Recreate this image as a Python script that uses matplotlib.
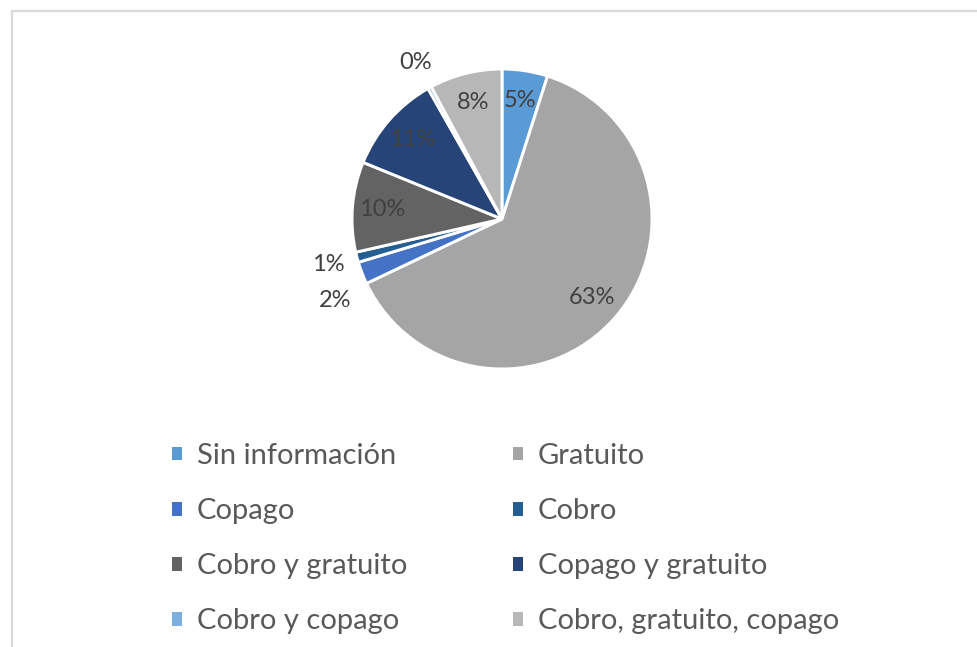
import matplotlib.pyplot as plt
import numpy as np
from matplotlib.patches import Patch, Rectangle

# datos (porcentajes)
categorias = ["Sin información", "Gratuito", "Copago", "Cobro",
              "Cobro y gratuito", "Copago y gratuito", "Cobro y copago",
              "Cobro, gratuito, copago"]
valores = [4.9, 62.9, 2.4, 1.1, 9.7, 10.6, 0.4, 7.8]
colores = ["#5B9BD5", "#A5A5A5", "#4472C4", "#255E91",
           "#636363", "#264478", "#7CAFDD", "#B7B7B7"]

plt.rcParams["font.family"] = ["Lato", "DejaVu Sans"]

W, H = 977, 647
fig = plt.figure(figsize=(W / 100, H / 100), dpi=100)

# marco gris claro del área del gráfico
fig.add_artist(Rectangle((12 / W, -0.1), 1.2, (H - 11) / H + 0.1,
                         transform=fig.transFigure, facecolor="none",
                         edgecolor="#D9D9D9", linewidth=1.6))

cx, cy, r = 502, 219, 150
ax = fig.add_axes([(cx - r) / W, (H - cy - r) / H, 2 * r / W, 2 * r / H])

wedges, texts, autotexts = ax.pie(
    valores,
    colors=colores,
    startangle=90,
    counterclock=False,
    autopct=lambda p: f"{p:.0f}%",
    pctdistance=0.8,
    wedgeprops=dict(edgecolor="white", linewidth=2.1),
    textprops=dict(color="#404040", fontsize=17),
)
ax.set_xlim(-1, 1)
ax.set_ylim(-1, 1)
ax.set_aspect("equal")

# etiquetas pequeñas fuera del círculo (distancia, ajuste de ángulo)
fuera = {2: (1.24, 5), 3: (1.2, 0), 6: (1.19, 0)}
for i, (dist, giro) in fuera.items():
    w = wedges[i]
    ang = np.deg2rad((w.theta1 + w.theta2) / 2 + giro)
    autotexts[i].set_position((dist * np.cos(ang), dist * np.sin(ang)))

handles = [Patch(facecolor=c, edgecolor="none") for c in colores]
opts = dict(frameon=False, fontsize=21, handlelength=0.35, handleheight=0.35,
            handletextpad=0.5, labelspacing=1.0, borderpad=0, borderaxespad=0,
            loc="upper left", labelcolor="#595959")
fig.legend(handles[0::2], categorias[0::2],
           bbox_to_anchor=(172 / W, (H - 443) / H), **opts)
fig.legend(handles[1::2], categorias[1::2],
           bbox_to_anchor=(513 / W, (H - 443) / H), **opts)

fig.savefig("out.png", dpi=100)
